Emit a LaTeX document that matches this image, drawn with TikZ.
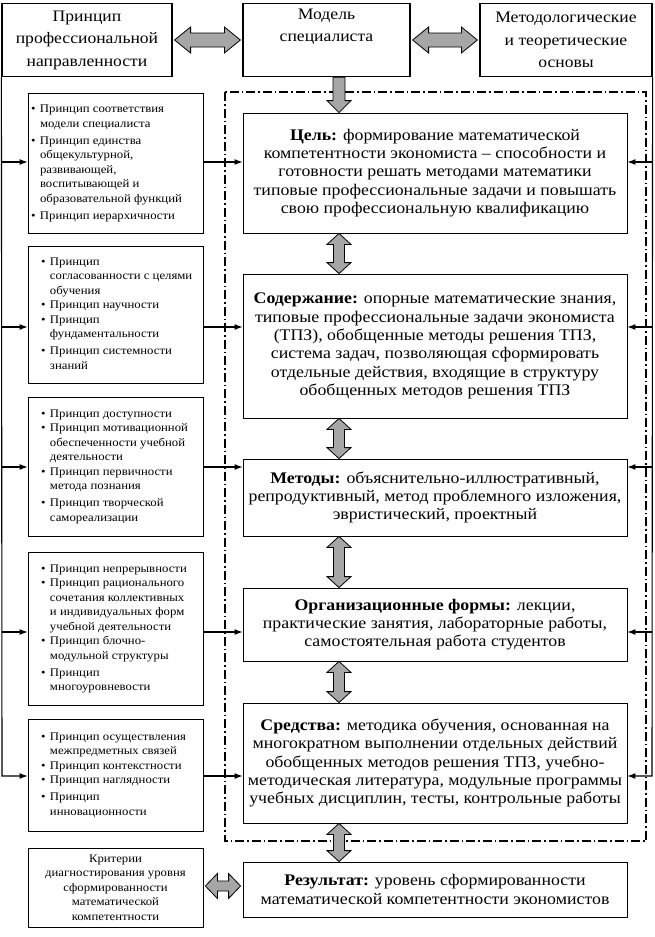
\documentclass[tikz,border=0pt]{standalone}
\usepackage{fontspec}
\setmainfont[FakeStretch=1.1]{Liberation Serif}
\usetikzlibrary{arrows.meta,calc}
\newcommand\cfont{\fontsize{16.2}{18.3}\selectfont}
\newcommand\tfont{\fontsize{16}{22.5}\selectfont}
\newcommand\sfont{\fontsize{11.6}{14.5}\selectfont}
\newcommand\lbul{\makebox[9pt][l]{\textbullet}}
% vertical fat double arrow: #1 x, #2 upper node, #3 lower node
\newcommand\vdarr[3]{\draw[fatarr] let \p1=(#2.south), \p2=(#3.north) in
 (#1,\y1) -- (#1+12pt,\y1-11pt) -- (#1+5.5pt,\y1-11pt) -- (#1+5.5pt,\y2+11pt) -- (#1+12pt,\y2+11pt) -- (#1,\y2) -- (#1-12pt,\y2+11pt) -- (#1-5.5pt,\y2+11pt) -- (#1-5.5pt,\y1-11pt) -- (#1-12pt,\y1-11pt) -- cycle;}
% horizontal fat double arrow: #1 y, #2 left node, #3 right node, #4 half head, #5 half shaft, #6 head length
\newcommand\hdarr[6]{\draw[fatarr] let \p1=(#2.east), \p2=(#3.west) in
 (\x1+2pt,#1) -- (\x1+2pt+#6,#1+#4) -- (\x1+2pt+#6,#1+#5) -- (\x2-2pt-#6,#1+#5) -- (\x2-2pt-#6,#1+#4) -- (\x2-2pt,#1) -- (\x2-2pt-#6,#1-#4) -- (\x2-2pt-#6,#1-#5) -- (\x1+2pt+#6,#1-#5) -- (\x1+2pt+#6,#1-#4) -- cycle;}
\begin{document}
\begin{tikzpicture}[x=1pt,y=-1pt,
 topbox/.style={draw, line width=1.2pt, minimum height=73pt, align=center, font=\tfont, inner sep=2pt},
 cbox/.style={draw, line width=0.8pt, minimum width=384pt, align=center, font=\cfont, inner sep=2pt},
 lbox/.style={draw, line width=0.8pt, minimum width=175pt, font=\sfont},
 fatarr/.style={draw=black, line width=0.8pt, fill=black!35, line join=miter},
 thinarr/.style={line width=1.1pt, line join=miter, -{Latex[length=8pt,width=6pt]}},
 framebox/.style={line width=1.4pt, dash pattern=on 9pt off 3pt on 1.5pt off 3pt}
]
\useasboundingbox (0,0) rectangle (654,937);
\draw[framebox] (225,92) rectangle (646,841);

\node[topbox, minimum width=170pt] (top1) at (87,40) {Принцип\\профессиональной\\направленности};
\node[topbox, minimum width=167pt] (model) at (326.5,40) {Модель\\специалиста\\\strut};
\node[topbox, minimum width=172pt] (top3) at (566,40) {Методологические\\и теоретические\\основы};

\node[cbox, minimum height=120pt] (cel) at (435,173) {\textbf{Цель:} формирование математической\\компетентности экономиста – способности и\\готовности решать методами математики\\типовые профессиональные задачи и повышать\\свою профессиональную квалификацию};
\node[cbox, minimum height=144pt] (sod) at (435,346) {\textbf{Содержание:} опорные математические знания,\\типовые профессиональные задачи экономиста\\(ТПЗ), обобщенные методы решения ТПЗ,\\система задач, позволяющая сформировать\\отдельные действия, входящие в структуру\\обобщенных методов решения ТПЗ};
\node[cbox, minimum height=77pt] (met) at (435,497.5) {\textbf{Методы:} объяснительно-иллюстративный,\\репродуктивный, метод проблемного изложения,\\эвристический, проектный};
\node[cbox, minimum height=73pt] (org) at (435,624.5) {\textbf{Организационные формы:} лекции,\\практические занятия, лабораторные работы,\\самостоятельная работа студентов};
\node[cbox, minimum height=120pt] (sred) at (435,763) {\textbf{Средства:} методика обучения, основанная на\\многократном выполнении отдельных действий\\обобщенных методов решения ТПЗ, учебно-\\методическая литература, модульные программы\\учебных дисциплин, тесты, контрольные работы};
\node[cbox, minimum height=55pt] (res) at (435,889.5) {\textbf{Результат:} уровень сформированности\\математической компетентности экономистов};

\node[lbox, minimum height=140pt, inner xsep=3pt] (l1) at (115.5,163) {\makebox[169pt][l]{\begin{tabular}{@{}l@{}l@{}}
\lbul & Принцип соответствия\\ & модели специалиста\\[2.5pt]
\lbul & Принцип единства\\ & общекультурной,\\ & развивающей,\\ & воспитывающей и\\ & образовательной функций\\[2.5pt]
\lbul & Принцип иерархичности\end{tabular}}};
\node[lbox, minimum height=137pt, inner xsep=13pt] (l2) at (115.5,314.5) {\makebox[149pt][l]{\begin{tabular}{@{}l@{}l@{}}
\lbul & Принцип\\ & согласованности с целями\\ & обучения\\
\lbul & Принцип научности\\
\lbul & Принцип\\ & фундаментальности\\[2.5pt]
\lbul & Принцип системности\\ & знаний\end{tabular}}};
\node[lbox, minimum height=139pt, inner xsep=13pt] (l3) at (115.5,466.5) {\makebox[149pt][l]{\begin{tabular}{@{}l@{}l@{}}
\lbul & Принцип доступности\\
\lbul & Принцип мотивационной\\ & обеспеченности учебной\\ & деятельности\\
\lbul & Принцип первичности\\ & метода познания\\[2.5pt]
\lbul & Принцип творческой\\ & самореализации\end{tabular}}};
\node[lbox, minimum height=153pt, inner xsep=13pt] (l4) at (115.5,628.5) {\makebox[149pt][l]{\begin{tabular}{@{}l@{}l@{}}
\lbul & Принцип непрерывности\\
\lbul & Принцип рационального\\ & сочетания коллективных\\ & и индивидуальных форм\\ & учебной деятельности\\
\lbul & Принцип блочно-\\ & модульной структуры\\[2.5pt]
\lbul & Принцип\\ & многоуровневости\end{tabular}}};
\node[lbox, minimum height=112pt, inner xsep=13pt] (l5) at (115.5,775) {\makebox[149pt][l]{\begin{tabular}{@{}l@{}l@{}}
\lbul & Принцип осуществления\\ & межпредметных связей\\
\lbul & Принцип контекстности\\
\lbul & Принцип наглядности\\[2.5pt]
\lbul & Принцип\\ & инновационности\end{tabular}}};
\node[lbox, minimum height=79pt, align=center] (crit) at (115.5,887.5) {Критерии\\диагностирования уровня\\сформированности\\математической\\компетентности};

% connectors
\coordinate (L1) at (2,162); \coordinate (L2) at (2,327); \coordinate (L3) at (2,467);
\coordinate (L4) at (2,632); \coordinate (L5) at (2,776);
\coordinate (R1) at (652,162); \coordinate (R2) at (652,327); \coordinate (R3) at (652,467);
\coordinate (R4) at (652,632); \coordinate (R5) at (652,776);

\draw[thinarr] (top1.south west) -- (L5) -- (L5 -| l5.west);
\draw[thinarr] (L1) -- (L1 -| l1.west);
\draw[thinarr] (L2) -- (L2 -| l2.west);
\draw[thinarr] (L3) -- (L3 -| l3.west);
\draw[thinarr] (L4) -- (L4 -| l4.west);
\draw[thinarr] (L1 -| l1.east) -- (L1 -| cel.west);
\draw[thinarr] (L2 -| l2.east) -- (L2 -| sod.west);
\draw[thinarr] (L3 -| l3.east) -- (L3 -| met.west);
\draw[thinarr] (L4 -| l4.east) -- (L4 -| org.west);
\draw[thinarr] (L5 -| l5.east) -- (L5 -| sred.west);

\draw[thinarr] (top3.south east) -- (R5) -- (R5 -| sred.east);
\draw[thinarr] (R1) -- (R1 -| cel.east);
\draw[thinarr] (R2) -- (R2 -| sod.east);
\draw[thinarr] (R3) -- (R3 -| met.east);
\draw[thinarr] (R4) -- (R4 -| org.east);

% fat arrows
\hdarr{-40pt}{top1}{model}{13pt}{7pt}{16pt}
\hdarr{-40pt}{model}{top3}{13pt}{7pt}{16pt}
\hdarr{-886pt}{crit}{res}{12.5pt}{5pt}{12pt}
\draw[fatarr] let \p1=(model.south), \p2=(cel.north) in (333pt,\y1) -- (333pt,\y2+12pt) -- (327pt,\y2+12pt) -- (339pt,\y2) -- (351pt,\y2+12pt) -- (345pt,\y2+12pt) -- (345pt,\y1) -- cycle;
\vdarr{339pt}{cel}{sod}
\vdarr{339pt}{sod}{met}
\vdarr{339pt}{met}{org}
\vdarr{339pt}{org}{sred}
\vdarr{339pt}{sred}{res}
\end{tikzpicture}
\end{document}
